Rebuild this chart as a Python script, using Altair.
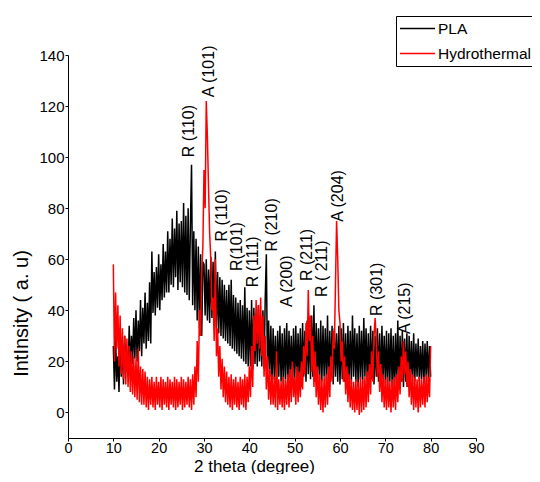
import altair as alt
import pandas as pd

# 2 theta grid (step 0.25 degree, 10 .. 80)
TWO_THETA = [10 + 0.25 * i for i in range(281)]

PLA_INTENSITY = (
    [26, 9, 30, 12, 22, 8, 33, 14, 27, 11, 30, 16, 24, 14, 34, 17, 30, 19, 37, 21]
    + [40, 20, 36, 24, 44, 22, 41, 27, 47, 25, 43, 28, 51, 27, 63, 39, 55, 38, 57, 41]
    + [62, 40, 58, 44, 66, 45, 63, 47, 71, 47, 68, 50, 76, 49, 72, 53, 79, 48, 74, 51]
    + [75, 49, 82, 47, 77, 46, 80, 44, 73, 97, 42, 71, 40, 68, 36, 65, 33, 62, 30, 59]
    + [58, 38, 60, 36, 56, 35, 61, 37, 59, 34, 63, 33, 55, 31, 53, 30, 52, 29, 50, 28]
    + [48, 27, 50, 26, 52, 25, 46, 24, 45, 23, 43, 22, 44, 21, 42, 20, 49, 19, 41, 18]
    + [40, 18, 44, 17, 41, 19, 39, 18, 42, 20, 38, 18, 40, 17, 44, 62, 16, 36, 14, 34]
    + [12, 33, 13, 30, 11, 32, 14, 34, 12, 31, 10, 33, 13, 35, 11, 32, 14, 30, 12, 33]
    + [11, 34, 13, 31, 12, 33, 10, 35, 14, 32, 12, 36, 15, 34, 13, 38, 14, 42, 12, 35]
    + [13, 33, 11, 36, 12, 34, 14, 33, 12, 38, 10, 32, 13, 34, 11, 33, 14, 31, 12, 34]
    + [11, 33, 13, 35, 12, 31, 10, 34, 13, 32, 11, 38, 14, 33, 12, 31, 10, 34, 13, 32]
    + [11, 37, 14, 33, 12, 31, 10, 34, 13, 32, 11, 30, 14, 33, 12, 31, 10, 34, 13, 30]
    + [11, 32, 9, 31, 12, 33, 10, 30, 8, 31, 11, 36, 9, 30, 12, 32, 10, 29, 12, 31]
    + [10, 30, 13, 28, 11, 31, 12, 27, 14, 29, 12, 26, 13, 28, 11, 27, 14, 28, 12, 26]
    + [14]
)

HYDRO_INTENSITY = (
    [58, 20, 47, 25, 42, 18, 38, 15, 33, 13, 30, 11, 29, 10, 26, 8, 24, 7, 22, 6]
    + [21, 5, 25, 4, 18, 3, 17, 3, 16, 2, 14, 1, 13, 3, 14, 2, 12, 1, 14, 3]
    + [12, 2, 14, 1, 13, 3, 12, 2, 14, 1, 13, 3, 12, 2, 14, 1, 13, 2, 12, 3]
    + [14, 1, 13, 2, 12, 3, 14, 2, 13, 1, 15, 3, 18, 6, 28, 12, 40, 30, 55, 65]
    + [95, 80, 122, 108, 88, 70, 60, 40, 45, 28, 60, 22, 33, 14, 26, 9, 21, 6, 18, 4]
    + [16, 3, 14, 2, 15, 1, 13, 3, 14, 2, 12, 1, 14, 3, 13, 2, 15, 1, 14, 4]
    + [18, 6, 26, 10, 38, 24, 44, 27, 42, 25, 45, 22, 38, 14, 30, 9, 22, 5, 17, 3]
    + [15, 3, 14, 2, 24, 1, 13, 3, 12, 2, 14, 1, 13, 3, 15, 2, 17, 4, 20, 6]
    + [14, 3, 18, 4, 16, 6, 20, 9, 26, 15, 35, 22, 48, 28, 38, 16, 30, 10, 24, 6]
    + [18, 3, 15, 1, 13, 0, 14, 2, 15, 3, 18, 6, 22, 12, 32, 25, 50, 75, 60, 40]
    + [35, 20, 28, 12, 22, 7, 18, 4, 15, 2, 13, 1, 12, 0, 13, 1, 12, -1, 14, 0]
    + [13, 1, 14, 2, 16, 4, 19, 7, 24, 12, 30, 37, 28, 14, 24, 8, 19, 4, 15, 2]
    + [13, 1, 14, 2, 12, 0, 13, 2, 14, 1, 15, 4, 18, 7, 22, 12, 28, 15, 24, 10]
    + [20, 6, 17, 3, 15, 1, 14, 2, 13, 0, 14, 2, 13, 3, 14, 2, 15, 4, 14, 6]
    + [26]
)

SERIES = ["PLA", "Hydrothermal"]
COLORS = ["#000000", "#ff0000"]

PEAK_LABELS = ["R (110)", "A (101)", "R (110)", "R(101)", "R (111)", "R (210)",
               "A (200)", "R (211)", "R ( 211)", "A (204)", "R (301)", "A (215)"]
PEAK_X = [26.7, 31.1, 34.0, 37.3, 40.8, 45.0, 48.3, 52.7, 56.0, 59.6, 68.2, 74.3]
PEAK_Y = [100.0, 123.5, 67.0, 55.4, 49.0, 63.0, 41.3, 51.5, 45.2, 74.7, 37.8, 30.7]

X_TICKS = list(range(0, 91, 5))
Y_TICKS = list(range(0, 141, 20))

FONT = "Liberation Sans, Arial"

n1 = min(len(TWO_THETA), len(PLA_INTENSITY))
n2 = min(len(TWO_THETA), len(HYDRO_INTENSITY))
df_pla = pd.DataFrame({"x": TWO_THETA[:n1], "y": PLA_INTENSITY[:n1], "series": SERIES[0]})
df_hyd = pd.DataFrame({"x": TWO_THETA[:n2], "y": HYDRO_INTENSITY[:n2], "series": SERIES[1]})
df_lab = pd.DataFrame({"x": PEAK_X, "y": PEAK_Y, "label": PEAK_LABELS})

xscale = alt.Scale(domain=[0, 90], nice=False, zero=False)
yscale = alt.Scale(domain=[-10, 140], nice=False, zero=False)

xaxis = alt.Axis(
    values=X_TICKS,
    labelExpr="datum.value % 10 == 0 ? datum.label : ''",
    labelOverlap=False,
    tickSize=3, labelPadding=0, labelFlush=False,
    labelFont=FONT, labelFontSize=14.5, labelColor="black",
    domainColor="black", tickColor="black", grid=False,
    title="2 theta (degree)", titleFont=FONT, titleFontSize=17,
    titleFontWeight="normal", titleColor="black",
    titleX=186, titleY=28, titleBaseline="middle", titleAlign="center",
)
yaxis = alt.Axis(
    values=Y_TICKS,
    labelOverlap=False,
    tickSize=3, labelPadding=1, labelFlush=False,
    labelFont=FONT, labelFontSize=15, labelColor="black",
    domainColor="black", tickColor="black", grid=False,
    title="IntInsity ( a. u)", titleFont=FONT, titleFontSize=20,
    titleFontWeight="normal", titleColor="black",
    titleX=-47, titleY=258, titleAngle=270, titleBaseline="middle", titleAlign="center",
)

color = alt.Color(
    "series:N",
    scale=alt.Scale(domain=SERIES, range=COLORS),
    legend=alt.Legend(
        title=None, orient="none", legendX=328, legendY=-39,
        strokeColor="black", fillColor="white", padding=3,
        labelFont=FONT, labelFontSize=15.5, labelColor="black",
        symbolType="stroke", symbolSize=1225, symbolStrokeWidth=1.5,
        labelOffset=2, clipHeight=19, rowPadding=6,
    ),
)

pla = alt.Chart(df_pla).mark_line(strokeWidth=1.5).encode(
    x=alt.X("x:Q", scale=xscale, axis=xaxis),
    y=alt.Y("y:Q", scale=yscale, axis=yaxis),
    color=color,
)
hyd = alt.Chart(df_hyd).mark_line(strokeWidth=1.5).encode(
    x=alt.X("x:Q", scale=xscale),
    y=alt.Y("y:Q", scale=yscale),
    color=color,
)
labels = alt.Chart(df_lab).mark_text(
    angle=270, align="left", baseline="middle",
    font=FONT, fontSize=16, color="black",
).encode(
    x=alt.X("x:Q", scale=xscale),
    y=alt.Y("y:Q", scale=yscale),
    text="label:N",
)

chart = alt.layer(pla, hyd, labels).properties(
    width=408, height=383,
    autosize=alt.AutoSizeParams(type="none"),
    padding={"left": 60, "top": 47, "right": 56, "bottom": 36},
    background="white",
).configure_view(stroke=None)

chart.save("out.html", embed_options={"renderer": "svg", "actions": False})
